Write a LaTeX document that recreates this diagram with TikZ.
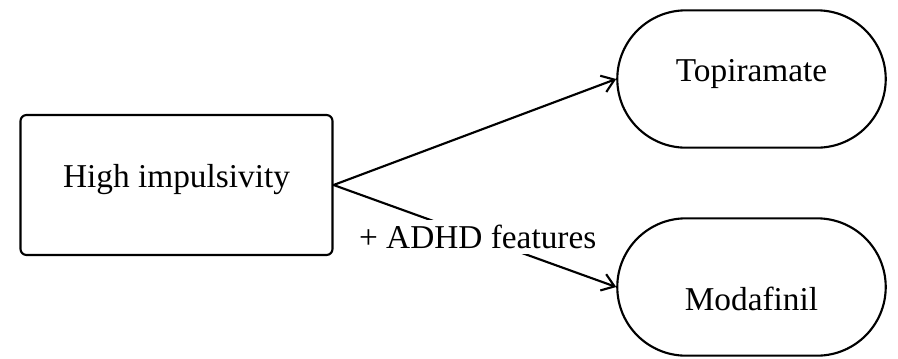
\documentclass[tikz,border=0pt]{standalone}
\usepackage{fontspec}
\setmainfont{Liberation Serif}
\usetikzlibrary{shapes.misc,arrows.meta}
\begin{document}
\begin{tikzpicture}[x=0.75pt, y=-0.75pt, line width=1.6pt, line join=round, line cap=round,
	font=\fontsize{25}{30}\selectfont, >={Straight Barb[length=9pt,width=13pt]},
	startbox/.style={draw, rounded corners=4.5pt, minimum width=234pt, minimum height=105pt, text height=16.5pt, text depth=13.5pt},
	drugpill/.style={draw, rounded rectangle, minimum width=208pt, minimum height=103pt}]
	\useasboundingbox (0,0) rectangle (898,358);
	\node[startbox] (imp) at (176.5,185) {High impulsivity};
	\node[drugpill, text height=16.5pt, text depth=13.5pt] (topi) at (751.5,79) {Topiramate};
	\node[drugpill, text height=34.5pt, text depth=0pt] (moda) at (751.5,287) {Modafinil};
	\draw[->] (imp.east)--(topi.west);
	\draw[->] (imp.east)--node[pos=0.51, fill=white, inner xsep=2pt, inner ysep=4pt]{+ ADHD features}(moda.west);
\end{tikzpicture}
\end{document}
